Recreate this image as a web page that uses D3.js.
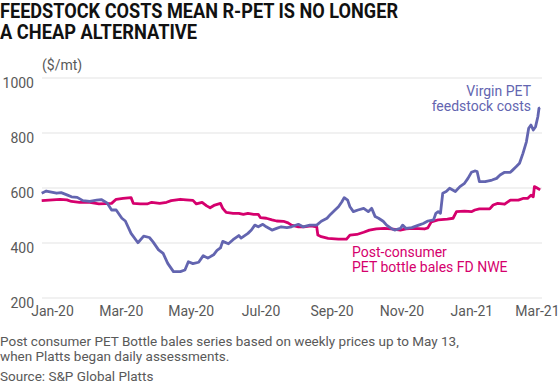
<!DOCTYPE html>
<html>
<head>
<meta charset="utf-8">
<script src="https://cdn.jsdelivr.net/npm/d3@7"></script>
<style>
  html, body { margin: 0; padding: 0; background: #fff; }
  svg { display: block; }
  text { font-family: Roboto, "Noto Sans", sans-serif; }
</style>
</head>
<body>
<svg id="chart" width="560" height="387"></svg>
<script>
// ---- Data ----
const virginDates = [
  "2019-12-23","2019-12-27","2020-01-05","2020-01-09","2020-01-14","2020-01-18","2020-01-23","2020-01-28",
  "2020-02-03","2020-02-09","2020-02-13","2020-02-18","2020-02-22","2020-02-26","2020-03-02","2020-03-05",
  "2020-03-10","2020-03-16","2020-03-21","2020-03-26","2020-03-29","2020-04-03","2020-04-07","2020-04-11",
  "2020-04-16","2020-04-22","2020-04-26","2020-04-29","2020-05-03","2020-05-08","2020-05-12","2020-05-16",
  "2020-05-21","2020-05-24","2020-05-27","2020-05-29","2020-06-03","2020-06-07","2020-06-12","2020-06-14",
  "2020-06-20","2020-06-23","2020-06-26","2020-06-29","2020-07-03","2020-07-06","2020-07-11","2020-07-15",
  "2020-07-19","2020-07-24","2020-07-28","2020-08-03","2020-08-07","2020-08-13","2020-08-19","2020-08-23",
  "2020-08-28","2020-08-31","2020-09-04","2020-09-07","2020-09-10","2020-09-12","2020-09-15","2020-09-17",
  "2020-09-20","2020-09-24","2020-09-29","2020-10-03","2020-10-06","2020-10-09","2020-10-12","2020-10-16",
  "2020-10-19","2020-10-23","2020-10-26","2020-10-31","2020-11-02","2020-11-05","2020-11-10","2020-11-16",
  "2020-11-20","2020-11-24","2020-11-29","2020-12-01","2020-12-03","2020-12-05","2020-12-07","2020-12-10",
  "2020-12-13","2020-12-18","2020-12-22","2020-12-26","2020-12-29","2021-01-01","2021-01-04","2021-01-06",
  "2021-01-08","2021-01-13","2021-01-19","2021-01-23","2021-01-26","2021-01-30","2021-02-04","2021-02-06",
  "2021-02-09","2021-02-12","2021-02-15","2021-02-18","2021-02-20","2021-02-22","2021-02-24","2021-02-26",
  "2021-02-28","2021-03-01","2021-03-02"
];
const virginValues = [
  581,589,581,583,575,568,566,554,
  551,556,558,546,520,520,490,480,
  435,401,425,420,405,375,362,326,
  296,296,302,332,325,330,354,345,
  357,373,382,406,397,412,427,418,
  435,447,465,459,468,459,447,453,
  459,456,459,468,459,465,465,479,
  490,504,520,532,550,565,556,532,
  514,520,526,514,526,496,490,479,
  465,453,447,453,465,453,456,465,
  471,480,484,508,514,508,581,587,
  599,587,605,617,635,657,662,660,
  623,623,629,635,647,657,657,665,
  677,690,726,768,817,829,811,823,
  859,890,892
];
const bottleDates = [
  "2019-12-23","2020-01-08","2020-01-14","2020-01-18","2020-01-25","2020-02-03","2020-02-11","2020-02-22",
  "2020-02-26","2020-03-03","2020-03-10","2020-03-12","2020-03-18","2020-03-24","2020-03-28","2020-04-04",
  "2020-04-10","2020-04-14","2020-04-22","2020-04-27","2020-05-03","2020-05-06","2020-05-11","2020-05-15",
  "2020-05-18","2020-05-22","2020-05-27","2020-05-29","2020-06-01","2020-06-07","2020-06-12","2020-06-16",
  "2020-06-20","2020-06-25","2020-06-29","2020-07-01","2020-07-06","2020-07-11","2020-07-15","2020-07-21",
  "2020-07-25","2020-07-28","2020-08-03","2020-08-08","2020-08-14","2020-08-19","2020-08-20","2020-08-23",
  "2020-08-29","2020-09-07","2020-09-14","2020-09-17","2020-09-23","2020-09-29","2020-10-04","2020-10-10",
  "2020-10-17","2020-10-23","2020-10-31","2020-11-05","2020-11-11","2020-11-21","2020-11-24","2020-11-27",
  "2020-12-03","2020-12-11","2020-12-16","2020-12-19","2020-12-26","2021-01-01","2021-01-04","2021-01-08",
  "2021-01-17","2021-01-20","2021-01-24","2021-01-30","2021-02-04","2021-02-11","2021-02-15","2021-02-19",
  "2021-02-22","2021-02-24","2021-02-25","2021-02-27","2021-03-02"
];
const bottleValues = [
  554,559,557,551,548,548,542,544,
  559,562,565,544,542,542,548,544,
  548,554,559,557,555,542,548,535,
  528,538,544,526,511,508,508,504,
  508,504,504,492,490,484,480,479,
  473,465,459,459,462,459,429,423,
  417,414,414,429,431,439,447,451,
  453,451,447,451,453,451,455,477,
  484,487,490,514,516,514,520,524,
  524,538,544,541,556,556,562,562,
  574,568,605,601,593
];
const yTicks = [200, 400, 600, 800, 1000];
const xTickDates = ["2020-01-01","2020-03-01","2020-05-01","2020-07-01","2020-09-01","2020-11-01","2021-01-01","2021-03-01"];
const titleLines = ["FEEDSTOCK COSTS MEAN R-PET IS NO LONGER", "A CHEAP ALTERNATIVE"];
const unitLabel = "($/mt)";
const virginLabel = ["Virgin PET", "feedstock costs"];
const bottleLabel = ["Post-consumer", "PET bottle bales FD NWE"];
const footnoteLines = [
  "Post consumer PET Bottle bales series based on weekly prices up to May 13,",
  "when Platts began daily assessments."
];
const sourceLine = "Source: S&P Global Platts";

// ---- Chart ----
const parse = d3.utcParse("%Y-%m-%d");
const virgin = virginDates.map((d, i) => ({ date: parse(d), value: virginValues[i] }));
const bottle = bottleDates.map((d, i) => ({ date: parse(d), value: bottleValues[i] }));

const svg = d3.select("#chart");
const BLUE = "#6365b0", RED = "#d5006d", GRAY = "#595959", GRID = "#e3e3e3";

const x = d3.scaleUtc()
  .domain([parse("2020-01-01"), parse("2021-03-01")])
  .range([52, 539]);
const y = d3.scaleLinear().domain([200, 1000]).range([298, 78]);

// title
svg.append("g").selectAll("text").data(titleLines).join("text")
  .attr("x", 0).attr("y", (d, i) => 18 + i * 21)
  .attr("font-size", 19.5).attr("font-weight", 700).attr("fill", "#111")
  .attr("textLength", (d, i) => i === 0 ? 398 : 197)
  .attr("lengthAdjust", "spacingAndGlyphs")
  .text(d => d);

// gridlines + y labels
const yAxis = d3.axisLeft(y).tickValues(yTicks).tickFormat(d3.format("d")).tickSize(0).tickPadding(0);
const gy = svg.append("g").attr("transform", "translate(34,0)").call(yAxis);
gy.select(".domain").remove();
gy.selectAll("text").attr("font-size", 14).attr("fill", GRAY)
  .attr("font-family", "Roboto, sans-serif").attr("dy", 9).attr("x", 0);
svg.append("g").selectAll("line").data(yTicks).join("line")
  .attr("x1", 42).attr("x2", 542)
  .attr("y1", d => y(d)).attr("y2", d => y(d))
  .attr("stroke", GRID).attr("stroke-width", 1);

// x axis labels
const xAxis = d3.axisBottom(x).tickValues(xTickDates.map(parse))
  .tickFormat(d3.utcFormat("%b-%y")).tickSize(0).tickPadding(0);
const gx = svg.append("g").attr("transform", "translate(0,304)").call(xAxis);
gx.select(".domain").remove();
gx.selectAll("text").attr("font-size", 14).attr("fill", GRAY)
  .attr("font-family", "Roboto, sans-serif").attr("dy", 12);
gx.selectAll(".tick:last-of-type text").attr("text-anchor", "end").attr("x", 20);

// unit
svg.append("text").attr("x", 42).attr("y", 70).attr("font-size", 14).attr("fill", GRAY).text(unitLabel);

// lines
const line = d3.line().x(d => x(d.date)).y(d => y(d.value)).curve(d3.curveLinear);
svg.append("path").datum(bottle).attr("d", line)
  .attr("fill", "none").attr("stroke", RED).attr("stroke-width", 2.8).attr("stroke-linejoin", "round");
svg.append("path").datum(virgin).attr("d", line)
  .attr("fill", "none").attr("stroke", BLUE).attr("stroke-width", 2.8).attr("stroke-linejoin", "round");

// series labels
svg.append("g").selectAll("text").data(virginLabel).join("text")
  .attr("x", 531).attr("y", (d, i) => 96 + i * 14.5).attr("text-anchor", "end")
  .attr("font-size", 14).attr("fill", BLUE).text(d => d);
svg.append("g").selectAll("text").data(bottleLabel).join("text")
  .attr("x", 352).attr("y", (d, i) => 257 + i * 15).attr("text-anchor", "start")
  .attr("font-size", 14).attr("fill", RED).text(d => d);

// footnotes
svg.append("g").selectAll("text").data(footnoteLines).join("text")
  .attr("x", 0).attr("y", (d, i) => 346 + i * 15)
  .attr("font-size", 13.5).attr("fill", GRAY).text(d => d);
svg.append("text").attr("x", 0).attr("y", 381).attr("font-size", 13.5).attr("fill", GRAY).text(sourceLine);
</script>
</body>
</html>
